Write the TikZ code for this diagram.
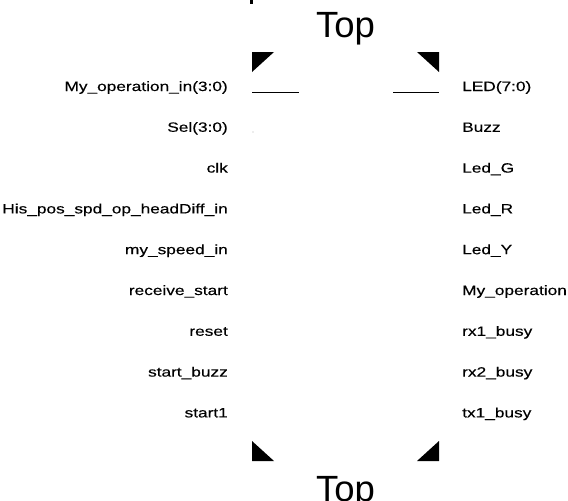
\documentclass[tikz,border=0pt]{standalone}
\usepackage{fontspec}
\setmainfont{Liberation Sans}
\newfontfamily\labfont[FakeStretch=1.28,FakeBold=0.25]{Liberation Sans}
\begin{document}
\begin{tikzpicture}[x=1pt,y=-1pt,
  lbl/.style={inner sep=0pt,font=\labfont\fontsize{13.5}{16}\selectfont},
  inport/.style={lbl,anchor=base east},
  outport/.style={lbl,anchor=base west},
  title/.style={inner sep=0pt,anchor=base,font=\fontsize{36.5}{40}\selectfont},
  tri/.style={fill=black,draw=none},
  pin/.style={line width=1pt}]
\useasboundingbox (0,0) rectangle (568,501);
% titles
\node[title] (ttop) at (345.5,37) {Top};
\node[title] (tbot) at (345.5,501) {Top};
% cut glyph fragment at top edge
\fill (250,0) rectangle (253,4);
% corner marks
\fill[tri] (252,52) -- (274,52) -- (252,72) -- cycle;
\fill[tri] (417,52) -- (439,52) -- (439,72) -- cycle;
\fill[tri] (252,441) -- (252,461) -- (274,461) -- cycle;
\fill[tri] (439,441) -- (439,461) -- (417,461) -- cycle;
% pin stubs
\coordinate (la) at (252,92); \coordinate (lb) at (299,92);
\coordinate (ra) at (393,92); \coordinate (rb) at (439,92);
\draw[pin] (la) -- (lb);
\draw[pin] (ra) -- (rb);
\fill[gray!60] (253,132) circle (0.7);
% input labels
\node[inport] (i1) at (228,91)    {My\_operation\_in(3:0)};
\node[inport] (i2) at (228,131.8) {Sel(3:0)};
\node[inport] (i3) at (228,172.6) {clk};
\node[inport] (i4) at (228,213.4) {His\_pos\_spd\_op\_headDiff\_in};
\node[inport] (i5) at (228,254.2) {my\_speed\_in};
\node[inport] (i6) at (228,295)   {receive\_start};
\node[inport] (i7) at (228,335.8) {reset};
\node[inport] (i8) at (228,376.6) {start\_buzz};
\node[inport] (i9) at (228,417.4) {start1};
% output labels
\node[outport] (o1) at (462,91)    {LED(7:0)};
\node[outport] (o2) at (462,131.8) {Buzz};
\node[outport] (o3) at (462,172.6) {Led\_G};
\node[outport] (o4) at (462,213.4) {Led\_R};
\node[outport] (o5) at (462,254.2) {Led\_Y};
\node[outport] (o6) at (462,295)   {My\_operation};
\node[outport] (o7) at (462,335.8) {rx1\_busy};
\node[outport] (o8) at (462,376.6) {rx2\_busy};
\node[outport] (o9) at (462,417.4) {tx1\_busy};
\end{tikzpicture}
\end{document}
